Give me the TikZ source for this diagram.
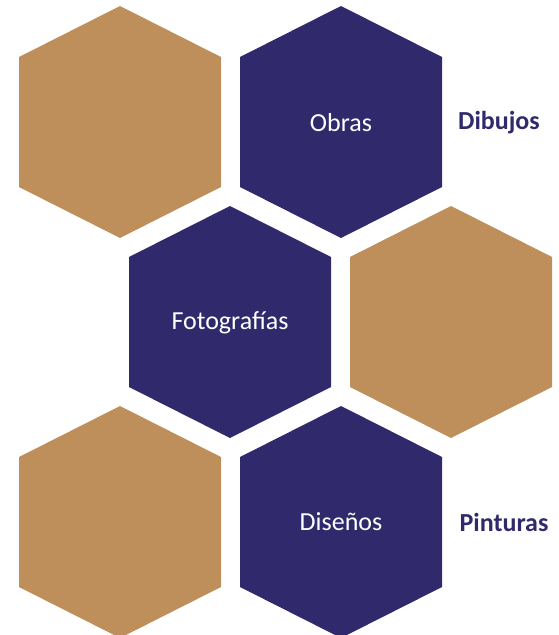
\documentclass[tikz,border=0pt]{standalone}
\usepackage{fontspec}
\setmainfont{Carlito}
\definecolor{hexnavy}{RGB}{48,42,108}
\definecolor{hexgold}{RGB}{191,143,91}
\begin{document}
\begin{tikzpicture}[x=1pt,y=-1pt]
    \tikzstyle{goldhex}=[fill=hexgold]
    \tikzstyle{navyhex}=[fill=hexnavy]
    \tikzstyle{intext}=[text=white,font=\fontsize{26}{30}\selectfont]
    \tikzstyle{sidetext}=[text=hexnavy,font=\fontsize{26}{30}\selectfont\bfseries]

    \useasboundingbox (0,0) rectangle (558,635);

    % honeycomb
    \foreach \x/\y/\c in {120/122/goldhex, 341/122/navyhex, 230/322/navyhex, 451/322/goldhex, 120/522/goldhex, 341/522/navyhex} {
        \fill[\c] (\x, \y - 116) -- ++(101, 51) -- ++(0, 130) -- ++(-101, 51) -- ++(-101, -51) -- ++(0, -130) -- cycle;
    }

    \node[intext] (obras) at (341, 123) {Obras};
    \node[intext] (fotos) at (230, 323) {Fotografías};
    \node[intext] (disenos) at (341, 522) {Diseños};

    \node[sidetext] (dibujos) at (499, 123) {Dibujos};
    \node[sidetext] (pinturas) at (504, 522) {Pinturas};

\end{tikzpicture}
\end{document}
